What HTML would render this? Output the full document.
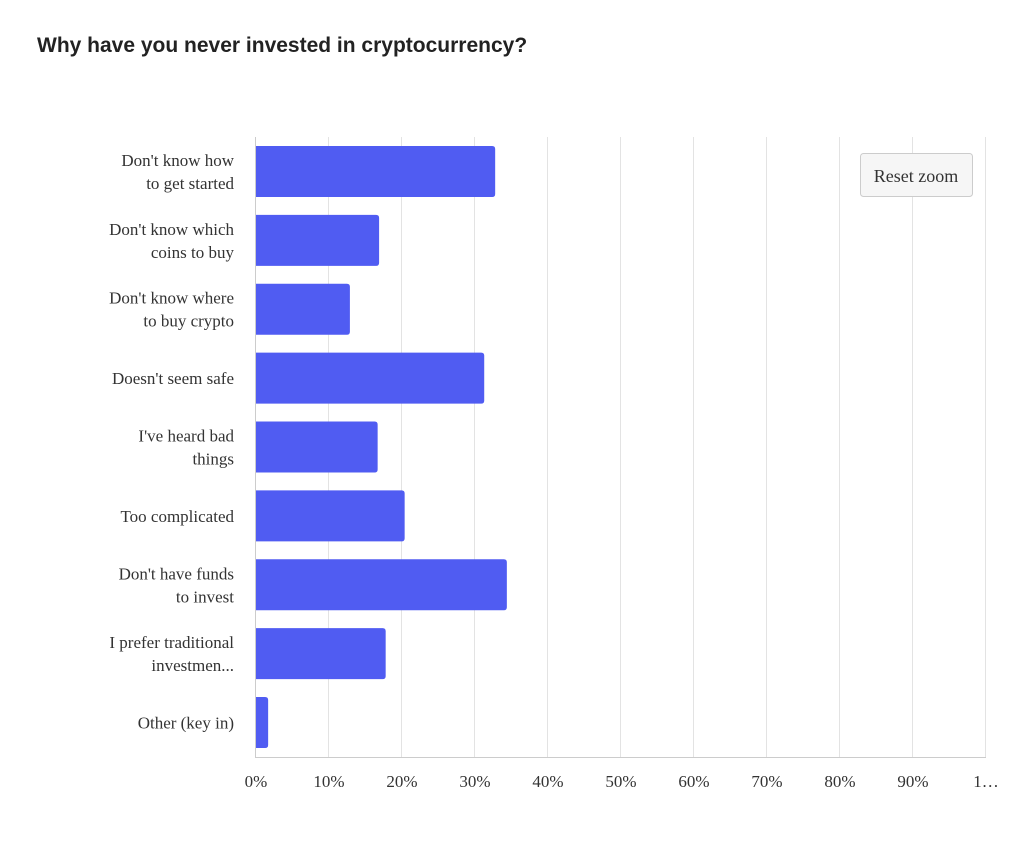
<!DOCTYPE html>
<html><head><meta charset="utf-8"><style>
body{margin:0;background:#fff;width:1024px;height:837px;overflow:hidden}
svg text{font-family:"Liberation Serif",serif}
</style></head><body>
<svg id="chart" width="1024" height="837" xmlns="http://www.w3.org/2000/svg">
<text x="37" y="52" style="font-family:'Liberation Sans',sans-serif;font-weight:bold;font-size:21px" fill="#222">Why have you never invested in cryptocurrency?</text>
<g id="grid"></g><g id="bars"></g><g id="ylabels"></g><g id="xlabels"></g>
<line x1="255.5" y1="137" x2="255.5" y2="757" stroke="#ccc"/>
<line x1="255" y1="757.5" x2="986" y2="757.5" stroke="#ccc"/>
<g>
<rect x="860.5" y="153.5" width="112" height="43" rx="3" fill="#f6f6f6" stroke="#ccc"/>
<text x="916" y="182" text-anchor="middle" font-size="18" fill="#333">Reset zoom</text>
</g>
</svg>
<script>
const categories=[["Don't know how","to get started"],["Don't know which","coins to buy"],["Don't know where","to buy crypto"],["Doesn't seem safe"],["I've heard bad","things"],["Too complicated"],["Don't have funds","to invest"],["I prefer traditional","investmen..."],["Other (key in)"]];
const values=[32.9,17.0,13.0,31.4,16.8,20.5,34.5,17.9,1.8];
const ticks=["0%","10%","20%","30%","40%","50%","60%","70%","80%","90%","1…"];
const tickVals=[0,10,20,30,40,50,60,70,80,90,100];
const NS="http://www.w3.org/2000/svg";
const x0=255,x1=985,yTop=137,yBot=757;
const xs=v=>x0+(x1-x0)*v/100;
const band=(yBot-yTop)/categories.length;
const yc=i=>yTop+band*(i+0.5);
function mk(tag,attrs,parent){const e=document.createElementNS(NS,tag);for(const k in attrs)e.setAttribute(k,attrs[k]);parent.appendChild(e);return e;}
const grid=document.getElementById('grid'),bars=document.getElementById('bars'),yl=document.getElementById('ylabels'),xl=document.getElementById('xlabels');
tickVals.forEach((t,i)=>{
 const l=mk('line',{x1:xs(t)+0.5,x2:xs(t)+0.5,y1:yTop,y2:yBot,stroke:'#e3e3e3'},grid);
 
 
 const tx=mk('text',{x:xs(t)+1,y:787,'text-anchor':'middle','font-size':17,fill:'#333'},xl);
 
 
 tx.textContent=ticks[i];
});
const bh=51;
values.forEach((v,i)=>{
 const w=xs(v)-x0,y=yc(i)-bh/2,r=3;
 const p=mk('path',{d:`M${x0},${y}H${x0+w-r}Q${x0+w},${y} ${x0+w},${y+r}V${y+bh-r}Q${x0+w},${y+bh} ${x0+w-r},${y+bh}H${x0}Z`,fill:'#505cf2'},bars);
 
 
 const lines=categories[i];
 const t=mk('text',{x:234,'text-anchor':'end','font-size':17,fill:'#333'},yl);
 
 
 lines.forEach((s,j)=>{const ts=mk('tspan',{x:234,y:yc(i)+6+(j-(lines.length-1)/2)*23},t);ts.textContent=s;});
});
</script>
</body></html>
